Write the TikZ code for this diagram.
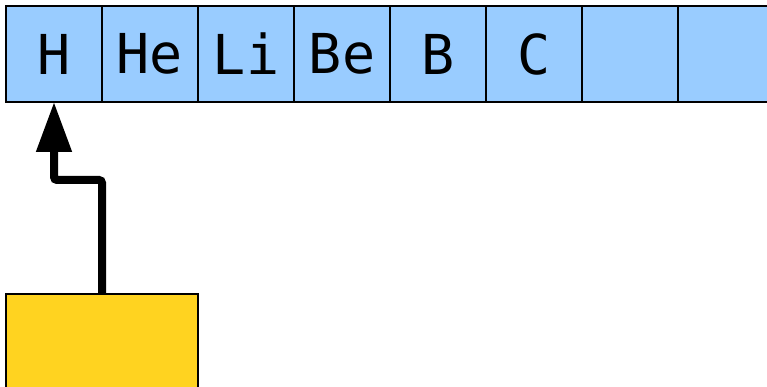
\documentclass[tikz,border=0pt]{standalone}
\usepackage{fontspec}
\setmonofont{DejaVu Sans Mono}
\usetikzlibrary{arrows.meta, positioning}
\definecolor{cellblue}{HTML}{99CCFF}
\definecolor{ptryellow}{HTML}{FFD320}

\begin{document}
\begin{tikzpicture}[x=1pt, y=1pt,
    cell/.style={draw, fill=cellblue, line width=1.2pt, minimum width=96pt, minimum height=96pt, inner sep=0pt, outer sep=0pt, font=\ttfamily\fontsize{55}{60}\selectfont},
    ptr/.style={draw, fill=ptryellow, line width=1.2pt, minimum width=192pt, minimum height=110pt, inner sep=0pt, outer sep=0pt},
    arrow/.style={line width=8pt, rounded corners=3pt, -{Triangle[length=50pt, width=34pt]}}
]
\clip (0,0) rectangle (767,-387);
\fill[white] (0,0) rectangle (767,-387);

% Nodes
\node[cell, anchor=north west] (h) at (6,-6) {H};
\node[cell, right=0pt of h] (he) {He};
\node[cell, right=0pt of he] (li) {Li};
\node[cell, right=0pt of li] (be) {Be};
\node[cell, right=0pt of be] (b) {B};
\node[cell, right=0pt of b] (c) {C};
\node[cell, right=0pt of c] (empty1) {};
\node[cell, right=0pt of empty1] (empty2) {};

\node[ptr, anchor=north west] (pointer) at (6,-294) {};

% Connections
\draw[arrow] (pointer.north) -- ++(0,114) -| (h.south);

\end{tikzpicture}
\end{document}
